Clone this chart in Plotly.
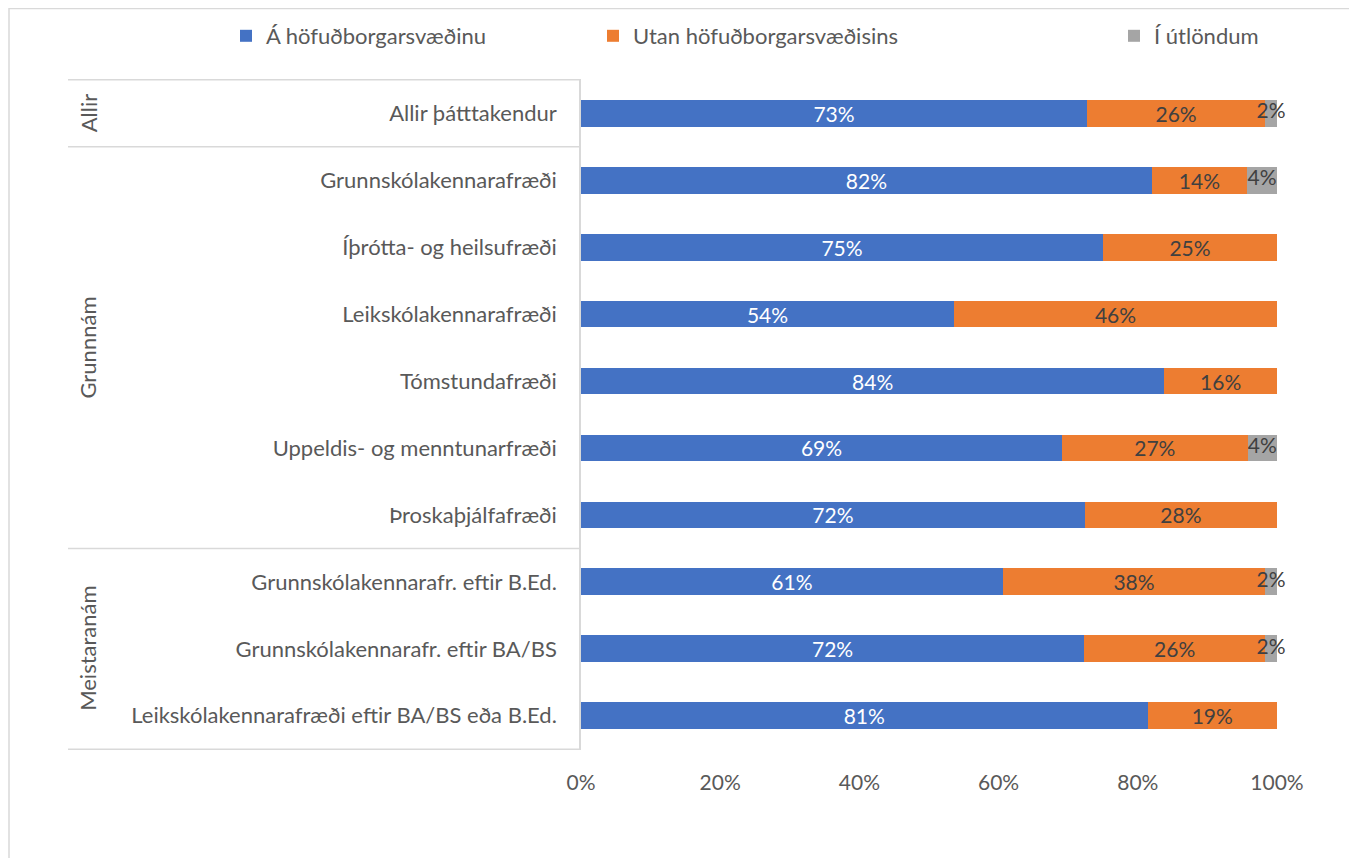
import plotly.graph_objects as go

categories = [
    "Allir þátttakendur",
    "Grunnskólakennarafræði",
    "Íþrótta- og heilsufræði",
    "Leikskólakennarafræði",
    "Tómstundafræði",
    "Uppeldis- og menntunarfræði",
    "Þroskaþjálfafræði",
    "Grunnskólakennarafr. eftir B.Ed.",
    "Grunnskólakennarafr. eftir BA/BS",
    "Leikskólakennarafræði eftir BA/BS eða B.Ed.",
]
groups = ["Allir", "Grunnnám", "Meistaranám"]
group_rows = [(0, 0), (1, 6), (7, 9)]

series_names = ["Á höfuðborgarsvæðinu", "Utan höfuðborgarsvæðisins", "Í útlöndum"]
hofudborg = [72.7, 82.0, 75.0, 53.6, 83.8, 69.1, 72.4, 60.6, 72.3, 81.4]
utan = [25.6, 13.7, 25.0, 46.4, 16.2, 26.7, 27.6, 37.7, 26.0, 18.6]
utlond = [1.7, 4.3, None, None, None, 4.2, None, 1.7, 1.7, None]

colors = ["#4472C4", "#ED7D31", "#A5A5A5"]
text_colors = ["#FFFFFF", "#404040", "#404040"]
tick_values = [0, 20, 40, 60, 80, 100]
tick_labels = [f"{v}%" for v in tick_values]

FONT = "Lato, Carlito, Calibri, 'Open Sans', sans-serif"
GRAY = "#595959"
LINE = "#D9D9D9"
LBL = 22
BAR_TXT = 21

# screen geometry (page body has an 8px margin)
OFF = 8
W, H = 1345, 850
PL, PR, PT, PB = 581, 1277, 79, 750  # plot area in screen px
L, T = PL - OFF, PT - OFF
R = W - (PR - OFF)
B = H - (PB - OFF)
pw, ph = PR - PL, PB - PT

def sx(px):
    return (px - PL) / pw

def sy(py):
    return 1 - (py - PT) / ph

fig = go.Figure()
legend_ids = ["legend", "legend2", "legend3"]
all_vals = [hofudborg, utan, utlond]
for i, (name, vals, col, tcol, lg) in enumerate(zip(series_names, all_vals, colors, text_colors, legend_ids)):
    fig.add_trace(go.Bar(
        y=categories, x=vals, name=name, orientation="h",
        marker=dict(color=col, line=dict(width=0)),
        texttemplate="%{x:.0f}%", textposition="inside" if i < 2 else "none",
        insidetextanchor="middle", textangle=0,
        textfont=dict(color=tcol, size=BAR_TXT, family=FONT),
        constraintext="none", cliponaxis=False,
        legend=lg, hoverinfo="x+name",
    ))

# labels for the thin "Í útlöndum" segments, centred on each segment
gx, gy, gt = [], [], []
for c, a, b, g in zip(categories, hofudborg, utan, utlond):
    if g:
        gx.append(a + b + g / 2)
        gy.append(c)
        gt.append(f"{g:.0f}%")
fig.add_trace(go.Scatter(
    x=gx, y=gy, text=gt, mode="text", textposition="middle center",
    textfont=dict(color="#404040", size=BAR_TXT, family=FONT),
    showlegend=False, cliponaxis=False, hoverinfo="skip",
))

legend_common = dict(orientation="h", yanchor="middle", xanchor="left",
                     font=dict(size=LBL, color=GRAY, family=FONT),
                     bgcolor="rgba(0,0,0,0)", borderwidth=0)
legend_symbol_starts = [243, 610, 1131]

layout_legends = {}
for lg, xs in zip(legend_ids, legend_symbol_starts):
    layout_legends[lg] = dict(legend_common, x=sx(xs - 17), y=sy(36))

shapes = []
x_left = sx(68)
for yb in [-0.5, 0.5, 6.5, 9.5]:
    shapes.append(dict(type="line", xref="paper", yref="y", x0=x_left, x1=0, y0=yb, y1=yb,
                       line=dict(color=LINE, width=1.5), layer="below"))
# outer chart border
shapes.append(dict(type="rect", xref="paper", yref="paper",
                   x0=sx(9), x1=sx(1352), y0=sy(880), y1=sy(8.5),
                   line=dict(color=LINE, width=1.5), fillcolor="rgba(0,0,0,0)", layer="below"))

annotations = []
for g, (a, b) in zip(groups, group_rows):
    annotations.append(dict(text=g, xref="paper", yref="y", x=sx(88), y=(a + b) / 2,
                            textangle=-90, showarrow=False, xanchor="center", yanchor="middle",
                            font=dict(size=LBL, color=GRAY, family=FONT)))

fig.update_layout(
    width=W, height=H,
    margin=dict(l=L, r=R, t=T, b=B, autoexpand=False),
    barmode="stack", bargap=0.6,
    paper_bgcolor="white", plot_bgcolor="white",
    font=dict(family=FONT, color=GRAY, size=LBL),
    uniformtext=dict(minsize=BAR_TXT, mode="show"),
    showlegend=True,
    shapes=shapes, annotations=annotations,
    **layout_legends,
)
fig.update_xaxes(range=[0, 100], tickvals=tick_values, ticktext=tick_labels, showgrid=False,
                 zeroline=False, showline=False, ticks="", ticklabelstandoff=18,
                 tickfont=dict(size=BAR_TXT, color=GRAY, family=FONT), fixedrange=True)
fig.update_yaxes(type="category", autorange="reversed", showgrid=False, zeroline=False,
                 showline=True, linecolor=LINE, linewidth=1.5, ticks="", ticklabelstandoff=18,
                 tickfont=dict(size=LBL, color=GRAY, family=FONT), fixedrange=True)

fig.write_html("out.html")
